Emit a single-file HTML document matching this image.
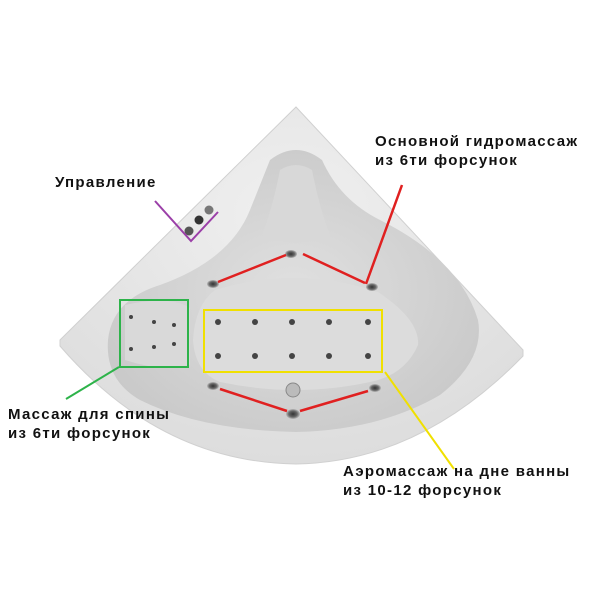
<!DOCTYPE html>
<html><head><meta charset="utf-8"><style>
html,body{margin:0;padding:0;background:#fff;width:600px;height:600px;overflow:hidden}
svg{position:absolute;left:0;top:0}
.t{font-family:"Liberation Sans","DejaVu Sans",sans-serif;font-weight:bold;font-size:15px;fill:#111;letter-spacing:1.3px}
</style></head><body>
<svg width="600" height="600" viewBox="0 0 600 600">
<defs>
<radialGradient id="g1" cx="0.5" cy="0.3" r="0.8"><stop offset="0" stop-color="#f0f0f0"/><stop offset="1" stop-color="#dadada"/></radialGradient>
<radialGradient id="g2" cx="0.5" cy="0.5" r="0.6"><stop offset="0" stop-color="#e0e0e0"/><stop offset="1" stop-color="#c8c8c8"/></radialGradient>
<radialGradient id="jet"><stop offset="0" stop-color="#333"/><stop offset="0.6" stop-color="#666"/><stop offset="1" stop-color="#bbb"/></radialGradient>
</defs>
<path d="M296,107 L523,350 L523,356 Q420,462 296,464 Q160,462 60,346 L60,340 Z" fill="url(#g1)" stroke="#d0d0d0"/>
<path d="M270,160 Q296,140 322,160 Q340,200 380,220 Q460,260 478,320 Q485,360 440,395 Q380,430 296,432 Q200,430 140,400 Q105,380 108,340 Q112,300 160,285 Q230,260 250,210 Z" fill="url(#g2)"/>
<path d="M280,170 Q296,160 312,170 Q320,210 330,235 Q296,250 262,235 Q272,210 280,170 Z" fill="#d8d8d8"/>
<path d="M215,290 Q296,265 378,292 Q420,320 418,345 Q405,375 370,382 Q296,398 220,382 Q195,372 193,340 Q195,305 215,290 Z" fill="#dcdcdc"/>
<path d="M125,305 Q170,295 190,308 L190,365 Q160,372 125,360 Z" fill="#d9d9d9"/>
<circle cx="189" cy="231" r="4.5" fill="#555"/><circle cx="199" cy="220" r="4.5" fill="#333"/><circle cx="209" cy="210" r="4.5" fill="#777"/>
<g fill="url(#jet)">
<ellipse cx="291" cy="254" rx="6" ry="4"/><ellipse cx="213" cy="284" rx="6" ry="4"/><ellipse cx="372" cy="287" rx="6" ry="4"/>
<ellipse cx="213" cy="386" rx="6" ry="4"/><ellipse cx="293" cy="414" rx="7" ry="5"/><ellipse cx="375" cy="388" rx="6" ry="4"/>
</g>
<circle cx="293" cy="390" r="7" fill="#bbb" stroke="#888"/>
<g fill="#444">
<circle cx="218" cy="322" r="3"/><circle cx="255" cy="322" r="3"/><circle cx="292" cy="322" r="3"/><circle cx="329" cy="322" r="3"/><circle cx="368" cy="322" r="3"/>
<circle cx="218" cy="356" r="3"/><circle cx="255" cy="356" r="3"/><circle cx="292" cy="356" r="3"/><circle cx="329" cy="356" r="3"/><circle cx="368" cy="356" r="3"/>
<circle cx="131" cy="317" r="2"/><circle cx="154" cy="322" r="2"/><circle cx="174" cy="325" r="2"/>
<circle cx="131" cy="349" r="2"/><circle cx="154" cy="347" r="2"/><circle cx="174" cy="344" r="2"/>
</g>
<polyline points="155,201 191,241 218,212" fill="none" stroke="#9b3fa8" stroke-width="2"/>
<g stroke="#e02020" stroke-width="2.5" fill="none">
<line x1="218" y1="282" x2="286" y2="255"/><line x1="303" y1="254" x2="365" y2="283"/><line x1="366" y1="284" x2="402" y2="185"/>
<line x1="220" y1="389" x2="287" y2="411"/><line x1="300" y1="411" x2="368" y2="391"/>
</g>
<rect x="120" y="300" width="68" height="67" fill="none" stroke="#2db34a" stroke-width="2"/>
<line x1="119" y1="367" x2="66" y2="399" stroke="#2db34a" stroke-width="2"/>
<rect x="204" y="310" width="178" height="62" fill="none" stroke="#f0e000" stroke-width="2"/>
<line x1="385" y1="372" x2="454" y2="469" stroke="#f0e000" stroke-width="2"/>
<text class="t" x="55" y="187">Управление</text>
<text class="t" x="375" y="146">Основной гидромассаж</text>
<text class="t" x="375" y="165">из 6ти форсунок</text>
<text class="t" x="8" y="419">Массаж для спины</text>
<text class="t" x="8" y="438">из 6ти форсунок</text>
<text class="t" x="343" y="476">Аэромассаж на дне ванны</text>
<text class="t" x="343" y="495">из 10-12 форсунок</text>
</svg>
</body></html>
